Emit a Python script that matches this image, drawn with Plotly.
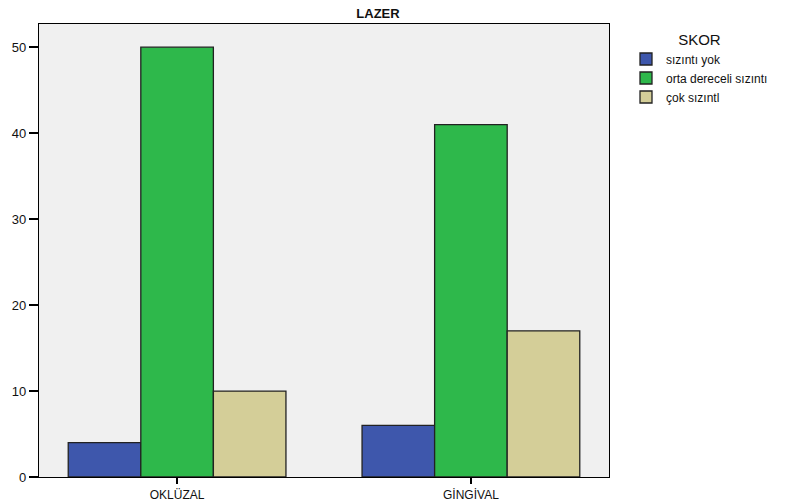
import plotly.graph_objects as go

categories = ["OKLÜZAL", "GİNGİVAL"]
series_names = ["sızıntı yok", "orta dereceli sızıntı", "çok sızıntl"]
sizinti_yok = [4, 6]
orta_dereceli = [50, 41]
cok_sizinti = [10, 17]
colors = ["#3E57AC", "#2EB84B", "#D4CE98"]

W, H = 785, 504
L, R, T, B = 39, 176, 24, 27

fig = go.Figure()
for name, vals, col in zip(series_names, [sizinti_yok, orta_dereceli, cok_sizinti], colors):
    fig.add_trace(go.Bar(
        x=categories, y=vals, name=name,
        marker=dict(color=col, line=dict(color="#222222", width=1.3)),
    ))

fig.update_layout(
    width=W, height=H,
    margin=dict(l=L, r=R, t=T, b=B, autoexpand=False),
    paper_bgcolor="white",
    plot_bgcolor="#F0F0F0",
    barmode="group",
    bargap=0.259,
    bargroupgap=0,
    font=dict(family="Liberation Sans, Arial, sans-serif", color="#111111", size=12),
    title=dict(text="<b>LAZER</b>", x=378 / W, xanchor="center", y=1 - 13 / H, yanchor="middle",
               font=dict(size=13, color="#111111")),
    xaxis=dict(
        range=[-0.47, 1.47], showgrid=False, showline=True, linecolor="black", linewidth=1.2,
        mirror=True, ticks="outside", ticklen=6, tickwidth=2, tickcolor="black",
        tickfont=dict(size=12),
    ),
    yaxis=dict(
        range=[0, 52.7], showgrid=False, showline=True, linecolor="black", linewidth=1.2,
        mirror=True, ticks="outside", ticklen=9, tickwidth=2, tickcolor="black",
        tickvals=[0, 10, 20, 30, 40, 50], zeroline=False, tickfont=dict(size=13),
        ticklabelstandoff=0,
    ),
    legend=dict(
        x=(626 - L) / (W - L - R), y=(H - B - 25) / (H - T - B), xanchor="left", yanchor="top",
        title=dict(text="SKOR", side="top center", font=dict(size=15)),
        font=dict(size=12), bgcolor="rgba(0,0,0,0)", tracegroupgap=0,
        itemwidth=30,
    ),
    showlegend=True,
)

fig.write_html("out.html")
